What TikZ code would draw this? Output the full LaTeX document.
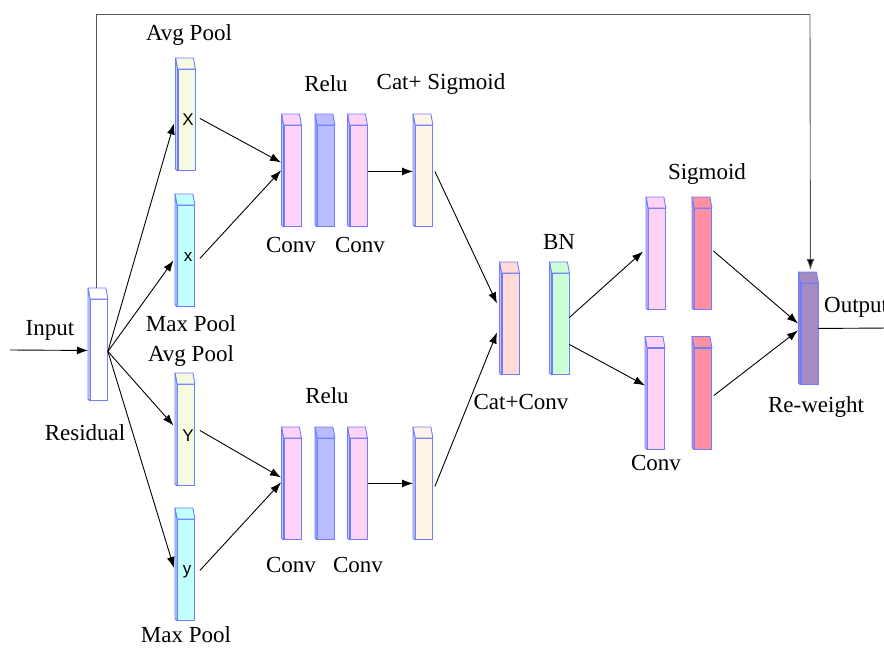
\documentclass[tikz,border=0pt]{standalone}
\usepackage{fontspec}
\setmainfont{Liberation Serif}
\newfontfamily\lettersf{Liberation Sans}
\usetikzlibrary{arrows.meta}

\definecolor{bord}{HTML}{6E7DFF}
\definecolor{resfill}{HTML}{FFFFFF}
\definecolor{avgfill}{HTML}{F6FAE0}
\definecolor{maxfill}{HTML}{C2FFFF}
\definecolor{convfill}{HTML}{FFD3F6}
\definecolor{relufill}{HTML}{BBBBFF}
\definecolor{catsfill}{HTML}{FFF5E6}
\definecolor{catcfill}{HTML}{FFDAD6}
\definecolor{bnfill}{HTML}{CCFFD6}
\definecolor{sigfill}{HTML}{FF90A2}
\definecolor{rwfill}{HTML}{A68AC2}
\definecolor{skipline}{HTML}{555555}

% top and left faces of a slab whose front face is node #1
\newcommand\slabfaces[2]{%
  \filldraw[draw=bord, fill=#2, line width=0.9pt, line join=round]
    (#1.north west) -- ([shift={(-2,-11)}]#1.north west)
    -- ([shift={(-2,-11)}]#1.north east) -- (#1.north east) -- cycle;
  \filldraw[draw=bord, fill=#2!70!bord, line width=0.9pt, line join=round]
    ([shift={(-2,-11)}]#1.north west) -- ([shift={(-2,-2)}]#1.south west)
    -- (#1.south west) -- (#1.north west) -- cycle;
}

\tikzset{
  slab/.style={draw=bord, line width=0.9pt, minimum width=17pt,
    minimum height=101pt, inner sep=0pt, anchor=north west, fill=#1},
  lbl/.style={font=\fontsize{23}{25}\selectfont, inner sep=0pt},
  ltr/.style={font=\lettersf\fontsize{17}{19}\selectfont, inner sep=0pt},
  arr/.style={line width=0.9pt, -{Latex[length=11pt,width=8pt]}},
  ln/.style={line width=0.9pt}
}

\begin{document}
\begin{tikzpicture}[x=1pt,y=-1pt]
\useasboundingbox (0,0) rectangle (884,648);

% ---- slabs (front faces) ----
\node[slab=resfill]  (Res) at (90,299) {};
\node[slab=avgfill]  (X)   at (177.5,69) {};
\node[slab=maxfill]  (xs)  at (177,205) {};
\node[slab=avgfill]  (Y)   at (177,384) {};
\node[slab=maxfill]  (ys)  at (177,519) {};

\node[slab=convfill] (C1u) at (283.5,125) {};
\node[slab=relufill] (Ru)  at (317,125) {};
\node[slab=convfill] (C2u) at (349.5,125) {};
\node[slab=catsfill] (Su)  at (415,125) {};

\node[slab=convfill] (C1l) at (283.5,438) {};
\node[slab=relufill] (Rl)  at (317,438) {};
\node[slab=convfill] (C2l) at (349.5,438) {};
\node[slab=catsfill] (Sl)  at (415,438) {};

\node[slab=catcfill] (CC)  at (501.5,273) {};
\node[slab=bnfill]   (BN)  at (551.5,273) {};

\node[slab=convfill] (P1)  at (648,208) {};
\node[slab=sigfill]  (R1)  at (694,208) {};
\node[slab=convfill] (P2)  at (647,347.5) {};
\node[slab=sigfill]  (R2)  at (694,347.5) {};

\node[slab=rwfill]   (RW)  at (800.5,283) {};

\slabfaces{Res}{resfill}
\slabfaces{X}{avgfill}
\slabfaces{xs}{maxfill}
\slabfaces{Y}{avgfill}
\slabfaces{ys}{maxfill}
\slabfaces{C1u}{convfill}
\slabfaces{Ru}{relufill}
\slabfaces{C2u}{convfill}
\slabfaces{Su}{catsfill}
\slabfaces{C1l}{convfill}
\slabfaces{Rl}{relufill}
\slabfaces{C2l}{convfill}
\slabfaces{Sl}{catsfill}
\slabfaces{CC}{catcfill}
\slabfaces{BN}{bnfill}
\slabfaces{P1}{convfill}
\slabfaces{R1}{sigfill}
\slabfaces{P2}{convfill}
\slabfaces{R2}{sigfill}
\slabfaces{RW}{rwfill}

% ---- letters on the pooled maps ----
\node[ltr] (tX) at (188,120) {X};
\node[ltr] (tx) at (188,257) {x};
\node[ltr] (tY) at (188,436) {Y};
\node[ltr] (ty) at (187,572) {y};

% ---- labels ----
\node[lbl] (lAvg1)  at (189,35)  {Avg Pool};
\node[lbl] (lRelu1) at (326,84)  {Relu};
\node[lbl] (lCatS)  at (441,84)  {Cat+ Sigmoid};
\node[lbl] (lConv1) at (291,245) {Conv};
\node[lbl] (lConv2) at (360,245) {Conv};
\node[lbl] (lMax1)  at (191,324) {Max Pool};
\node[lbl] (lAvg2)  at (191,356) {Avg Pool};
\node[lbl] (lInput) at (50,330)  {Input};
\node[lbl] (lRes)   at (85,433)  {Residual};
\node[lbl] (lRelu2) at (327,396) {Relu};
\node[lbl] (lConv3) at (291,565) {Conv};
\node[lbl] (lConv4) at (358,565) {Conv};
\node[lbl] (lMax2)  at (186,635) {Max Pool};
\node[lbl] (lCatC)  at (521,402) {Cat+Conv};
\node[lbl] (lBN)    at (559,242) {BN};
\node[lbl] (lSig)   at (707,174) {Sigmoid};
\node[lbl] (lConv5) at (656,463) {Conv};
\node[lbl] (lRW)    at (816,407) {Re-weight};
\node[lbl, anchor=west] (lOut) at (824,307) {Output};

% ---- connectors ----
\coordinate (inStart) at (10,350);
\draw[arr] (inStart) -- ([shift={(-2,0.5)}]Res.west);

\draw[arr] ([shift={(0,1.5)}]Res.east) -- ([shift={(-3.5,3.5)}]X.west);
\draw[arr] ([shift={(0,1.5)}]Res.east) -- ([shift={(-3.5,4.5)}]xs.west);
\draw[arr] ([shift={(0,1.5)}]Res.east) -- ([shift={(-3.5,-9.5)}]Y.west);
\draw[arr] ([shift={(0,1.5)}]Res.east) -- ([shift={(-3,-2)}]ys.west);

\draw[arr] ([shift={(4.5,-1.5)}]X.east)  -- ([shift={(-2.5,-13.5)}]C1u.west);
\draw[arr] ([shift={(5,2.5)}]xs.east)    -- ([shift={(-2.5,-5.5)}]C1u.west);
\draw[arr] ([shift={(5,-4.5)}]Y.east)    -- ([shift={(-2.5,-11.5)}]C1l.west);
\draw[arr] ([shift={(5,0.5)}]ys.east)    -- ([shift={(-2.5,-6.5)}]C1l.west);

\draw[arr] ([shift={(0.5,-4.5)}]C2u.east) -- ([shift={(-2,-4.5)}]Su.west);
\draw[arr] ([shift={(0.5,-5.5)}]C2l.east) -- ([shift={(-2,-5.5)}]Sl.west);

\draw[arr] ([shift={(2,-4.5)}]Su.east) -- ([shift={(-4.5,-20.5)}]CC.west);
\draw[arr] ([shift={(2,-2.5)}]Sl.east) -- ([shift={(-4.5,8.5)}]CC.west);

\draw[arr] ([shift={(0,-6.5)}]BN.east) -- ([shift={(-5,-7.5)}]P1.west);
\draw[arr] ([shift={(0,20.5)}]BN.east) -- ([shift={(-2,-13)}]P2.west);

\draw[arr] ([shift={(1.5,-8)}]R1.east) -- ([shift={(-2.5,-10.5)}]RW.west);
\draw[arr] ([shift={(2,-3)}]R2.east)   -- ([shift={(-2.5,-3.5)}]RW.west);

\coordinate (skipB) at (810,14);
\draw[ln, draw=skipline] ([shift={(-2.5,-11)}]Res.north) |- (skipB);
\draw[ln, draw=skipline, -{Latex[length=11pt,width=8pt,fill=black]}] (skipB) -- ([shift={(1,-13)}]RW.north);

\coordinate (outEnd) at (890,328);
\draw[ln] ([shift={(0,-5.5)}]RW.east) -- (outEnd);
\end{tikzpicture}
\end{document}
